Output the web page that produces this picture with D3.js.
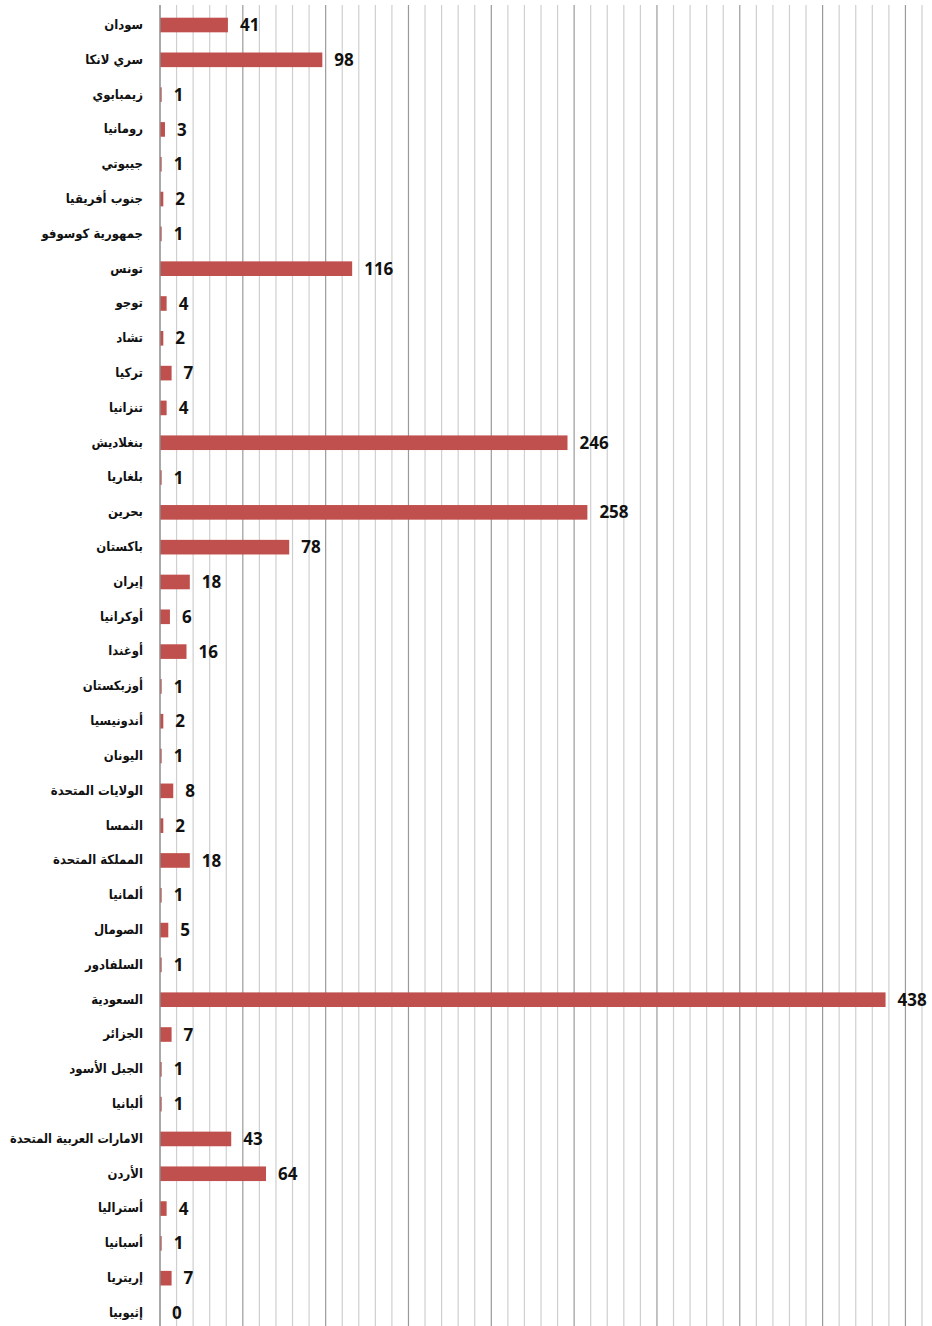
<!DOCTYPE html>
<html>
<head>
<meta charset="utf-8">
<script src="https://cdn.jsdelivr.net/npm/d3@7"></script>
<style>
  body { margin: 0; background: #fff; }
  svg { display: block; }
</style>
</head>
<body>
<div id="chart"></div>
<script>
var width = 932;
var height = 1326;

// countries, top to bottom
var countries = ["سودان", "سري لانكا", "زيمبابوي", "رومانيا", "جيبوتي", "جنوب أفريقيا",
  "جمهورية كوسوفو", "تونس", "توجو", "تشاد", "تركيا", "تنزانيا", "بنغلاديش", "بلغاريا",
  "بحرين", "باكستان", "إيران", "أوكرانيا", "أوغندا", "أوزبكستان", "أندونيسيا", "اليونان",
  "الولايات المتحدة", "النمسا", "المملكة المتحدة", "ألمانيا", "الصومال", "السلفادور",
  "السعودية", "الجزائر", "الجبل الأسود", "ألبانيا", "الامارات العربية المتحدة", "الأردن",
  "أستراليا", "أسبانيا", "إريتريا", "إثيوبيا"];
var counts = [41, 98, 1, 3, 1, 2, 1, 116, 4, 2, 7, 4, 246, 1, 258, 78, 18, 6, 16, 1, 2, 1,
  8, 2, 18, 1, 5, 1, 438, 7, 1, 1, 43, 64, 4, 1, 7, 0];

var xMax = 460;

var x = d3.scaleLinear()
  .domain([0, xMax])
  .range([160, 922]);

var y = d3.scaleBand()
  .domain(countries)
  .range([7.6, 1330.4])
  .paddingInner(0.58)
  .paddingOuter(0.29);

var svg = d3.select("#chart")
  .append("svg")
  .attr("width", width)
  .attr("height", height);

svg.append("rect")
  .attr("width", width)
  .attr("height", height)
  .attr("fill", "white");

// vertical gridlines, a darker one every 50
var gridVals = d3.range(10, xMax + 1, 10);
svg.append("g")
  .selectAll("line")
  .data(gridVals)
  .enter()
  .append("line")
  .attr("x1", function(d) { return x(d); })
  .attr("x2", function(d) { return x(d); })
  .attr("y1", 5)
  .attr("y2", height)
  .style("stroke", function(d) { return d % 50 == 0 ? "#9a9a9a" : "#cfcfcf"; })
  .style("stroke-width", 1.2);

// bars
svg.append("g")
  .selectAll("rect")
  .data(countries)
  .enter()
  .append("rect")
  .attr("x", x(0))
  .attr("y", function(d) { return y(d); })
  .attr("width", function(d, i) { return x(counts[i]) - x(0); })
  .attr("height", y.bandwidth())
  .attr("fill", "#c0504d");

// axis line
svg.append("line")
  .attr("x1", x(0))
  .attr("x2", x(0))
  .attr("y1", 5)
  .attr("y2", height)
  .style("stroke", "#8c8c8c")
  .style("stroke-width", 1.5);

// value labels
svg.append("g")
  .selectAll("text")
  .data(countries)
  .enter()
  .append("text")
  .attr("x", function(d, i) { return x(counts[i]) + 12; })
  .attr("y", function(d) { return y(d) + y.bandwidth() / 2; })
  .attr("dy", "0.36em")
  .style("font-family", "'Open Sans', 'Liberation Sans', sans-serif")
  .style("font-weight", "bold")
  .style("font-size", "17px")
  .style("fill", "#111")
  .text(function(d, i) { return counts[i]; });

// category labels (right edge at x = 143)
var maxLabel = 133;
svg.append("g")
  .selectAll("text")
  .data(countries)
  .enter()
  .append("text")
  .attr("x", 143)
  .attr("y", function(d) { return y(d) + y.bandwidth() / 2; })
  .attr("dy", "0.3em")
  .attr("text-anchor", "end")
  .style("font-family", "'DejaVu Sans Condensed', 'DejaVu Sans', sans-serif")
  .style("font-weight", "bold")
  .style("font-size", "13px")
  .style("fill", "#111")
  .text(function(d) { return d; })
  .each(function() {
    // squeeze the very long names so they stay inside the page
    if (this.getComputedTextLength() > maxLabel) {
      d3.select(this)
        .attr("textLength", maxLabel)
        .attr("lengthAdjust", "spacingAndGlyphs");
    }
  });
</script>
</body>
</html>
